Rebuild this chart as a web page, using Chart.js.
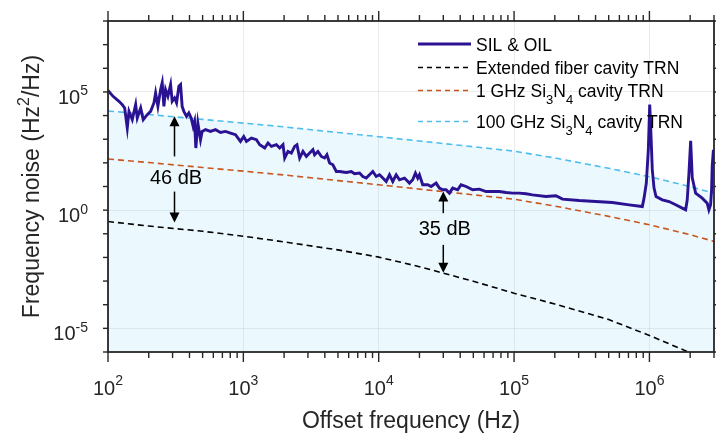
<!DOCTYPE html>
<html><head><meta charset="utf-8">
<script src="https://cdn.jsdelivr.net/npm/chart.js@4/dist/chart.umd.min.js"></script>
<style>html,body{margin:0;padding:0;background:#fff}#wrap{width:716px;height:438px;position:relative}</style>
</head><body><div id="wrap"><canvas id="c" width="716" height="438"></canvas></div>
<script>
// ---------- data ----------
const silFreq = [100,109,120.5,127.5,132.8,138.8,142.9,151.1,160.1,164.5,174.3,182.1,194.9,206.5,218.4,224.8,233.7,244.7,251.4,258.8,266.4,277,290,298,310.4,321.1,333.9,343.6,353.1,363.5,380.5,395.6,411.4,425.6,435.9,445.6,461,482.6,495.9,525.4,571.9,622.6,677.9,737.9,803.3,874.4,952,1007,
  1054,1147,1249,1321,1438,1521,1612,1754,1855,1963,2020,2136,2263,2393,2489,2606,2756,2920,3088,3266,3361,3555,3766,3983,4143,4337,4587,4860,5139,5760,6270,6630,7220,7633,8088,8554,9046,9585,10137,10720,11360,12010,
  12700,13460,14230,15500,16870,17840,18680,19430,19990,21140,23020,24390,26550,28080,29700,31460,33270,35200,38320,40600,44200,49430,55390,62070,69430,77790,87160,97480,109200,122400,136900,
  171900,203800,227900,302600,401800,532600,707200,886400,912500,948700,981500,1005000,1027000,1050000,1081000,1119000,1245000,1395000,1563000,1748000,1852000,1903000,1959000,2017000,2072000,2195000,2455000,2673000,2751000,2831000,2879000,2909000,2970000];
const silNoise = [1.15e5,6.51e4,4.0e4,2.9e4,2.1e4,2.99e3,1.51e4,6.7e3,2.9e4,7.91e3,2.1e4,6.7e3,1.09e4,1.51e4,3.42e4,9.08e4,2.45e4,1.25e5,2.41e5,2.45e4,1.25e5,6.51e4,2.04e5,4.0e4,5.57e4,3.42e4,1.73e5,2.04e5,2.45e4,1.51e4,9.25e3,1.29e4,7.91e3,3.49e3,5.68e3,424,4.85e3,953,2.14e3,2.53e3,2.14e3,2.53e3,1.94e3,2.14e3,1.83e3,1.55e3,807,1.31e3,
  807,1.12e3,953,585,424,690,495,585,424,585,160,304,260,495,585,160,304,187,260,359,220,304,187,160,220,98,83,43.2,43.2,39.2,43.2,34.5,37,26.5,22.7,31.3,43.2,26.5,31.3,22.7,16.3,31.3,
  16.3,31.3,19.2,22.7,13.9,19.2,37,22.7,31.3,11.8,11.8,10,13.9,8.55,7.24,7.24,5.25,8.55,7.24,11.8,10,7.24,7.76,6.14,6.14,6.14,5.57,5.25,5.25,4.91,4.45,
  3.77,4.04,2.92,2.55,2.31,2.10,1.68,1.42,3.22,13.9,359,2.9e4,1.55e3,51,8.81,3.77,2.73,2.31,1.68,1.22,1.03,2.73,37,863,23.4,5.25,3.22,1.98,1.03,1.68,7.24,70.3,359];
const modelFreq = [100,200,500,1e3,2e3,5e3,1e4,2e4,5e4,1e5,2e5,5e5,1e6,2e6,3e6];
const fiberTRN = [0.329,0.212,0.128,0.079,0.0454,0.0208,0.0103,0.00407,9.8e-4,3.07e-4,1.07e-4,2.36e-5,5.0e-6,9.3e-7,3.5e-7];
const sin1GHzTRN = [145,103,63.8,44.5,30.7,17.8,11.8,7.76,4.45,2.9,1.49,0.546,0.24,0.0916,0.0476];
const sin100GHzTRN = [1.57e4,1.11e4,6.9e3,4.81e3,3.32e3,1.92e3,1.28e3,839,481,313,161,59,26,9.9,5.15];

const xTickExps = [2,3,4,5,6];
const yTickExps = [-5,0,5];
const yDecadeExps = [-6,-5,-4,-3,-2,-1,0,1,2,3,4,5,6,7,8];
const seriesNames = ['SIL & OIL','Extended fiber cavity TRN','1 GHz Si|3|N|4| cavity TRN','100 GHz Si|3|N|4| cavity TRN'];
// annotations (data units)
const arrowFreq = [310, 30000];
const arrowUpTip = [9250, 6.1];
const arrowUpTail = [187, 0.746];
const arrowLabelY = [22.7, 0.146];
const arrowDownTail = [6.1, 0.0339];
const arrowDownTip = [0.30, 0.00227];
const arrowLabels = ['46 dB', '35 dB'];

// ---------- styles ----------
const FONT = '"Liberation Sans", Arial, Helvetica, sans-serif';
const AX = '#262626';
const C_SIL = '#2a1293', C_FIB = '#000000', C_1G = '#c9561f', C_100G = '#4dbeee';

function pts(xs, ys){ return xs.map((x,i)=>({x:x, y:ys[i]})); }

function drawPow(ctx, base, exp, x, yBase, size, supSize, raise, align){
  ctx.font = size+'px '+FONT; const w1 = ctx.measureText(base).width;
  ctx.font = supSize+'px '+FONT; const w2 = ctx.measureText(exp).width;
  const tot = w1+w2;
  const x0 = align==='center' ? x-tot/2 : (align==='right' ? x-tot : x);
  ctx.textAlign='left'; ctx.textBaseline='alphabetic';
  ctx.font = size+'px '+FONT; ctx.fillText(base, x0, yBase);
  ctx.font = supSize+'px '+FONT; ctx.fillText(exp, x0+w1, yBase-raise);
}
function drawRich(ctx, spec, x, y, size, subSize, drop){
  const parts = spec.split('|');
  let cx = x;
  ctx.textAlign='left'; ctx.textBaseline='alphabetic';
  parts.forEach((p,i)=>{
    const sub = i%2===1;
    ctx.font = (sub?subSize:size)+'px '+FONT;
    ctx.fillText(p, cx, sub ? y+drop : y);
    cx += ctx.measureText(p).width;
  });
}
function arrowHead(ctx, x, yTip, dir){ // dir -1 up, +1 down
  const L=10, W=5;
  ctx.beginPath(); ctx.moveTo(x, yTip); ctx.lineTo(x-W, yTip - dir*L); ctx.lineTo(x+W, yTip - dir*L); ctx.closePath(); ctx.fill();
}

const decor = {
  id:'decor',
  afterDraw(chart){
    const ctx = chart.ctx, xs = chart.scales.x, ys = chart.scales.y, a = chart.chartArea;
    ctx.save();
    // annotations
    ctx.strokeStyle='#000'; ctx.fillStyle='#000'; ctx.lineWidth=1.5;
    arrowFreq.forEach((f,i)=>{
      const x = xs.getPixelForValue(f);
      const yT = ys.getPixelForValue(arrowUpTip[i]), yA = ys.getPixelForValue(arrowUpTail[i]);
      const yB = ys.getPixelForValue(arrowDownTail[i]), yD = ys.getPixelForValue(arrowDownTip[i]);
      ctx.beginPath(); ctx.moveTo(x, yA); ctx.lineTo(x, yT+8); ctx.stroke();
      arrowHead(ctx, x, yT, -1);
      ctx.beginPath(); ctx.moveTo(x, yB); ctx.lineTo(x, yD-8); ctx.stroke();
      arrowHead(ctx, x, yD, 1);
      ctx.font='20px '+FONT; ctx.textAlign='center'; ctx.textBaseline='middle';
      ctx.fillText(arrowLabels[i], x+1.5, ys.getPixelForValue(arrowLabelY[i]));
    });
    // axes box
    ctx.strokeStyle=AX; ctx.lineWidth=1.8;
    ctx.strokeRect(a.left, a.top, a.right-a.left, a.bottom-a.top);
    // x ticks
    ctx.lineWidth=1.4;
    const xmin = xs.min, xmax = xs.max;
    for (let e=2; e<=6; e++){
      for (let m=1; m<=9; m++){
        const v = m*Math.pow(10,e);
        if (v < xmin*0.999 || v > xmax*1.001) continue;
        const x = xs.getPixelForValue(v);
        const L = m===1 ? 10 : 6;
        ctx.beginPath(); ctx.moveTo(x, a.bottom); ctx.lineTo(x, a.bottom+L); ctx.stroke();
        ctx.beginPath(); ctx.moveTo(x, a.top); ctx.lineTo(x, a.top-L); ctx.stroke();
      }
    }
    // y ticks
    yDecadeExps.forEach(e=>{
      const y = ys.getPixelForValue(Math.pow(10,e));
      ctx.beginPath(); ctx.moveTo(a.left, y); ctx.lineTo(a.left-5, y); ctx.stroke();
      ctx.beginPath(); ctx.moveTo(a.right, y); ctx.lineTo(a.right+5, y); ctx.stroke();
    });
    // tick labels
    ctx.fillStyle=AX;
    xTickExps.forEach(e=>{
      drawPow(ctx, '10', String(e), xs.getPixelForValue(Math.pow(10,e)), 395, 20, 14, 10, 'center');
    });
    yTickExps.forEach(e=>{
      drawPow(ctx, '10', String(e), 88, ys.getPixelForValue(Math.pow(10,e))+12, 20, 14, 8.5, 'right');
    });
    // axis titles
    ctx.font='23px '+FONT; ctx.textAlign='center'; ctx.textBaseline='alphabetic';
    ctx.fillText('Offset frequency (Hz)', (a.left+a.right)/2, 428);
    ctx.save();
    ctx.translate(39, (a.top+a.bottom)/2);
    ctx.rotate(-Math.PI/2);
    ctx.font='23px '+FONT;
    const t1='Frequency noise (Hz', t2='2', t3='/Hz)';
    const w1=ctx.measureText(t1).width; ctx.font='16px '+FONT; const w2=ctx.measureText(t2).width;
    ctx.font='23px '+FONT; const w3=ctx.measureText(t3).width;
    let sx = -(w1+w2+w3)/2;
    ctx.textAlign='left';
    ctx.fillText(t1, sx, 0); sx+=w1;
    ctx.font='16px '+FONT; ctx.fillText(t2, sx, -10); sx+=w2;
    ctx.font='23px '+FONT; ctx.fillText(t3, sx, 0);
    ctx.restore();
    // legend
    const legBase = [50.5, 74, 97, 128];
    const legCol = [C_SIL, C_FIB, C_1G, C_100G];
    legBase.forEach((b,i)=>{
      const ly = b-6.5;
      ctx.strokeStyle = legCol[i];
      ctx.lineWidth = i===0 ? 2.8 : 1.6;
      ctx.setLineDash(i===0 ? [] : [5,4]);
      ctx.beginPath(); ctx.moveTo(418, ly); ctx.lineTo(471, ly); ctx.stroke();
      ctx.setLineDash([]);
      ctx.fillStyle='#000';
      drawRich(ctx, seriesNames[i], 476, b, 17.5, 13, 7);
    });
    ctx.restore();
  }
};

const datasets = [
  {label:'SIL & OIL', data:pts(silFreq, silNoise), borderColor:C_SIL, borderWidth:2.9, pointRadius:0, tension:0, fill:false},
  {label:'Extended fiber cavity TRN', data:pts(modelFreq, fiberTRN), borderColor:C_FIB, borderWidth:1.6, borderDash:[6,4], pointRadius:0, fill:false},
  {label:'1 GHz Si3N4 cavity TRN', data:pts(modelFreq, sin1GHzTRN), borderColor:C_1G, borderWidth:1.6, borderDash:[6,4], pointRadius:0, fill:false},
  {label:'100 GHz Si3N4 cavity TRN', data:pts(modelFreq, sin100GHzTRN), borderColor:C_100G, borderWidth:1.6, borderDash:[6,4], pointRadius:0, fill:'start', backgroundColor:'rgba(77,190,238,0.11)'}
];

new Chart(document.getElementById('c'), {
  type:'line',
  data:{datasets},
  options:{
    responsive:false, animation:false, devicePixelRatio:1,
    layout:{padding:{left:108, top:21, right:2, bottom:86}},
    plugins:{legend:{display:false}, tooltip:{enabled:false}},
    scales:{
      x:{type:'logarithmic', min:100, max:3e6,
         afterBuildTicks:(s)=>{ s.ticks = xTickExps.map(e=>({value:Math.pow(10,e)})); },
         ticks:{display:false}, border:{display:false},
         grid:{drawTicks:false, color:'rgba(0,0,0,0.08)', lineWidth:1}},
      y:{type:'logarithmic', min:1e-6, max:1e8,
         afterBuildTicks:(s)=>{ s.ticks = yTickExps.map(e=>({value:Math.pow(10,e)})); },
         ticks:{display:false}, border:{display:false},
         grid:{drawTicks:false, color:'rgba(0,0,0,0.08)', lineWidth:1}}
    }
  },
  plugins:[decor]
});
</script></body></html>
